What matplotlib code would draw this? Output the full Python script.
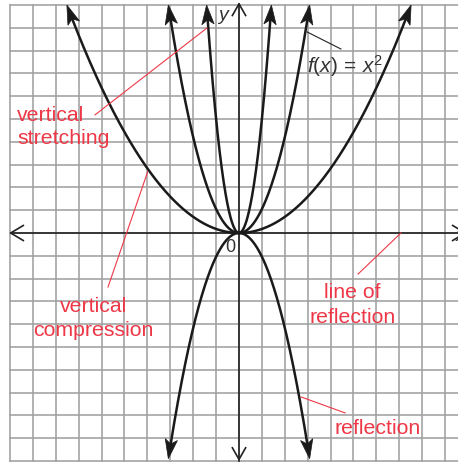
import matplotlib.pyplot as plt
from matplotlib.patches import Polygon
import numpy as np

plt.rcParams['font.family'] = ['Liberation Sans', 'DejaVu Sans']
plt.rcParams['mathtext.fontset'] = 'custom'
plt.rcParams['mathtext.rm'] = 'Liberation Sans'
plt.rcParams['mathtext.it'] = 'Liberation Sans:italic'

# parabolas y = a*x^2 (one cell = one unit)
coefs = [5.0, 1.05, 0.177, -1.04]
y_ends = [10.0, 10.0, 10.0, -9.9]

# red callouts: text lines (x, baseline y, alignment) and pointer lines
red_texts = [
    ('vertical', -9.69, 4.96, 'left'),
    ('stretching', -9.69, 3.95, 'left'),
    ('vertical', -6.35, -3.41, 'center'),
    ('compression', -6.38, -4.47, 'center'),
    ('line of', 4.96, -2.81, 'center'),
    ('reflection', 4.96, -3.89, 'center'),
    ('reflection', 6.07, -8.77, 'center'),
]
red_lines = [
    ((-6.29, 5.18), (-1.40, 8.99)),
    ((-3.99, 2.68), (-5.72, -2.37)),
    ((7.07, 0.0), (5.20, -1.80)),
    ((2.71, -7.19), (4.63, -7.89)),
]
red = '#ee3847'
ink = '#1a1a1a'


def head(ax, x, y, dx, dy, L=0.85, W=0.27, N=0.2):
    n = np.hypot(dx, dy)
    ux, uy = dx / n, dy / n
    px, py = -uy, ux
    bx, by = x - L * ux, y - L * uy
    pts = [(x, y), (bx + W * px, by + W * py),
           (x - (L - N) * ux, y - (L - N) * uy), (bx - W * px, by - W * py)]
    ax.add_patch(Polygon(pts, closed=True, facecolor=ink, edgecolor=ink, lw=0.5, zorder=5))


fig = plt.figure(figsize=(4.58, 4.64), dpi=100)
ax = fig.add_axes([10 / 458, 2 / 464, 448 / 458, 456 / 464])
ax.set_xlim(-10, 448 / 22.9 - 10)
ax.set_ylim(-10, 10)
ax.axis('off')

# grid
for g in range(-10, 11):
    ax.axvline(g, color='#a0a0a0', lw=1.15, zorder=1, clip_on=False)
    ax.axhline(g, color='#a0a0a0', lw=1.15, zorder=1, clip_on=False)

# axes with open arrow tips
ax.plot([-9.97, 10.5], [0, 0], color='#222222', lw=1.2, zorder=3, clip_on=False)
ax.plot([0, 0], [-10.0, 10.05], color='#222222', lw=1.2, zorder=3, clip_on=False)
ax.plot([-9.97 + 0.55, -9.97, -9.97 + 0.55], [0.33, 0, -0.33], color='#222222', lw=1.2, zorder=3)
ax.plot([9.88 - 0.55, 9.88, 9.88 - 0.55], [0.33, 0, -0.33], color='#222222', lw=1.2, zorder=3, clip_on=False)
ax.plot([-0.29, 0, 0.29], [10.05 - 0.51, 10.05, 10.05 - 0.51], color='#222222', lw=1.2, zorder=3, clip_on=False)
ax.plot([-0.29, 0, 0.29], [-9.93 + 0.51, -9.93, -9.93 + 0.51], color='#222222', lw=1.2, zorder=3, clip_on=False)

# parabolas with arrowheads
for a, ye in zip(coefs, y_ends):
    xe = np.sqrt(ye / a)
    slope = 2 * a * xe
    n = np.hypot(1, slope)
    xc = xe - 0.6 / n
    xs = np.linspace(-xc, xc, 400)
    ax.plot(xs, a * xs ** 2, color=ink, lw=1.8, zorder=4, solid_capstyle='butt', clip_on=False)
    head(ax, xe, ye, 1, slope)
    head(ax, -xe, ye, -1, slope)

# callouts
for (p0, p1) in red_lines:
    ax.plot([p0[0], p1[0]], [p0[1], p1[1]], color=red, lw=0.8, zorder=6)
for (s, x, y, ha) in red_texts:
    ax.text(x, y, s, color=red, fontsize=15.3, ha=ha, va='baseline', zorder=7)

ax.plot([2.97, 4.45], [8.82, 8.07], color='#222222', lw=0.8, zorder=6)
ax.text(2.98, 7.06, r'$f(x)\,=\,x^2$', color='#333333', fontsize=15, ha='left', va='baseline', zorder=7)
ax.text(-0.92, 9.6, 'y', color='#333333', fontsize=14, style='italic', ha='left', va='center', zorder=7)
ax.text(-0.39, -0.61, '0', color='#333333', fontsize=13, ha='center', va='center', zorder=7)
ax.text(9.45, -0.09, 'x', color='#333333', fontsize=14, style='italic', ha='left', va='center', zorder=7, clip_on=False)

fig.savefig('out.png', dpi=100, facecolor='white')
